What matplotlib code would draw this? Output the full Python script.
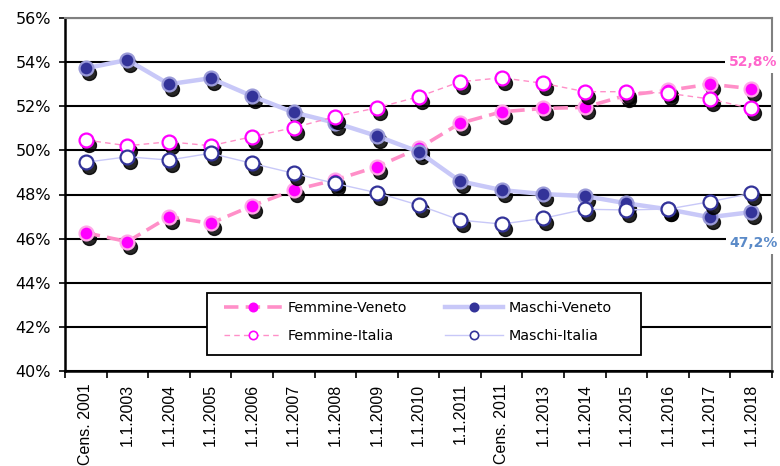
import matplotlib
matplotlib.use("Agg")
import matplotlib.pyplot as plt
from matplotlib.patches import Rectangle
from matplotlib.transforms import offset_copy
from matplotlib.ticker import FixedLocator, NullFormatter

plt.rcParams['font.family'] = ['DejaVu Sans']

labels = ['Cens. 2001', '1.1.2003', '1.1.2004', '1.1.2005', '1.1.2006', '1.1.2007',
          '1.1.2008', '1.1.2009', '1.1.2010', '1.1.2011', 'Cens. 2011', '1.1.2013',
          '1.1.2014', '1.1.2015', '1.1.2016', '1.1.2017', '1.1.2018']

femmine_veneto = [46.27, 45.86, 46.99, 46.69, 47.49, 48.2, 48.66, 49.26, 50.09, 51.23,
                  51.75, 51.9, 51.95, 52.5, 52.72, 53.0, 52.8]
maschi_veneto = [53.72, 54.1, 53.0, 53.27, 52.46, 51.72, 51.25, 50.65, 49.94, 48.6,
                 48.2, 48.02, 47.93, 47.6, 47.33, 46.97, 47.2]
femmine_italia = [50.47, 50.21, 50.39, 50.21, 50.62, 51.03, 51.53, 51.93, 52.43, 53.11,
                  53.29, 53.04, 52.66, 52.66, 52.59, 52.33, 51.9]
maschi_italia = [49.46, 49.71, 49.56, 49.87, 49.41, 48.96, 48.5, 48.08, 47.52, 46.84,
                 46.66, 46.92, 47.33, 47.3, 47.34, 47.67, 48.05]

x = list(range(len(labels)))

fig = plt.figure(figsize=(7.8, 4.66), dpi=100)
ax = fig.add_axes([65 / 780, 95 / 466, 707 / 780, 353 / 466])

shadow = offset_copy(ax.transData, fig=fig, x=3, y=-5, units='dots')

series = [
    # values, line colour, line style, line width, marker face, marker edge, label
    (femmine_veneto, '#ff8fc8', (0, (4, 2)), 2.6, '#ff00ff', '#ffa8e8', 'Femmine-Veneto'),
    (maschi_veneto, '#c8c8f8', '-', 3.2, '#333399', '#9a9ad8', 'Maschi-Veneto'),
    (femmine_italia, '#ff8fc8', (0, (4, 3)), 1.0, 'white', '#ff00ff', 'Femmine-Italia'),
    (maschi_italia, '#c8c8f8', '-', 1.0, 'white', '#333399', 'Maschi-Italia'),
]

handles = {}
for i, (vals, lc, ls, lw, mfc, mec, lab) in enumerate(series):
    z = 3 + i * 2
    ax.plot(x, vals, ls='none', marker='o', ms=10, mfc='black', mec='black',
            alpha=0.85, transform=shadow, zorder=z)
    ax.plot(x, vals, color=lc, ls=ls, lw=lw, zorder=z + 0.5)
    ax.plot(x, vals, ls='none', marker='o', ms=10, mfc=mfc, mec=mec, mew=1.6,
            zorder=z + 1)
    h, = ax.plot([], [], color=lc, ls=ls, lw=lw, marker='o', ms=6,
                 mfc=mfc, mec=mfc if mfc != 'white' else mec, mew=1.2)
    handles[lab] = h

ax.set_xlim(-0.5, len(labels) - 0.5)
ax.set_ylim(40, 56)
ax.set_yticks(range(40, 57, 2))
ax.set_yticklabels([f'{v}%' for v in range(40, 57, 2)], fontsize=11.5)
ax.yaxis.grid(True, color='black', lw=1.5)
ax.set_axisbelow(True)
ax.tick_params(axis='y', length=4, width=1.2, pad=6)

ax.xaxis.set_major_locator(FixedLocator(x))
ax.set_xticklabels(labels, rotation=90, fontsize=11.5, family='Liberation Sans',
                   va='top', ha='center')
ax.tick_params(axis='x', which='major', length=0, pad=9)
ax.xaxis.set_minor_locator(FixedLocator([i - 0.5 for i in range(len(labels) + 1)]))
ax.xaxis.set_minor_formatter(NullFormatter())
ax.tick_params(axis='x', which='minor', length=5, width=1.2)

for side in ['left', 'bottom']:
    ax.spines[side].set_linewidth(1.8)
    ax.spines[side].set_color('black')
for side in ['top', 'right']:
    ax.spines[side].set_linewidth(1.5)
    ax.spines[side].set_color('#808080')

lx = len(labels) - 0.5 + 0.13
ax.text(lx, femmine_veneto[-1] + 1.2, '52,8%', color='#ff66cc', fontsize=10,
        fontweight='bold', ha='right', va='center', zorder=20, clip_on=False,
        bbox=dict(boxstyle='square,pad=0.25', fc='white', ec='none'))
ax.text(lx, maschi_veneto[-1] - 1.4, '47,2%', color='#5a8ac8', fontsize=10,
        fontweight='bold', ha='right', va='center', zorder=20, clip_on=False,
        bbox=dict(boxstyle='square,pad=0.25', fc='white', ec='none'))

# legend frame drawn separately so its size can match the original
frame = Rectangle((207 / 780, 1 - 355 / 466), 434 / 780, 62 / 466,
                  transform=fig.transFigure, fc='white', ec='black', lw=1.3,
                  zorder=25)
fig.add_artist(frame)

order = ['Femmine-Veneto', 'Femmine-Italia', 'Maschi-Veneto', 'Maschi-Italia']
leg = fig.legend([handles[k] for k in order], order, ncol=2, loc='center',
                 bbox_to_anchor=(418 / 780, 1 - 322 / 466), fontsize=10.3,
                 frameon=False, handlelength=4.0, handletextpad=0.4,
                 columnspacing=2.7, borderpad=0, labelspacing=1.0)
leg.set_zorder(30)

fig.savefig('out.png', dpi=100)
